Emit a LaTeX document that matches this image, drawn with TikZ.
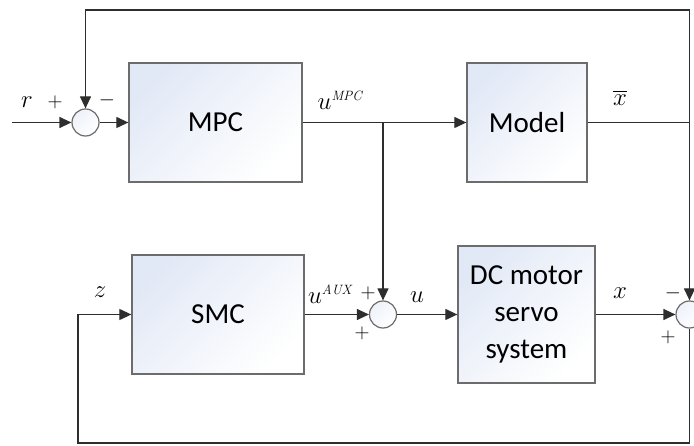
\documentclass[tikz,border=0pt]{standalone}
\usepackage{amsmath}
\usepackage{fontspec}
\newfontfamily\blockfont{Carlito}
\usetikzlibrary{arrows.meta}
\usetikzlibrary{positioning,calc}

\definecolor{boxblue}{HTML}{E2E9F6}
\definecolor{boxline}{HTML}{6C6C6C}
\definecolor{wire}{HTML}{2E2E2E}

\tikzset{
  block/.style={draw=boxline, line width=1.3pt, top color=boxblue, bottom color=white,
    shading angle=45, inner sep=0pt, font=\blockfont\fontsize{29}{37}\selectfont, align=center},
  sumnode/.style={circle, draw=boxline, line width=1.2pt, top color=boxblue!60, bottom color=white,
    shading angle=45, minimum size=27pt, inner sep=0pt},
  sig/.style={wire, line width=1.2pt, -{Triangle[length=12pt,width=11pt]}},
  wireline/.style={wire, line width=1.2pt},
  lbl/.style={inner sep=0pt, font=\fontsize{27}{30}\selectfont},
  sgn/.style={inner sep=0pt, font=\fontsize{22}{24}\selectfont}
}

\begin{document}
\begin{tikzpicture}[x=1pt,y=1pt]
  \useasboundingbox (0,0) rectangle (694,445);
  \clip (0,0) rectangle (694,445);

  % blocks
  \node[block, minimum width=173pt, minimum height=119pt] (mpc) at (215.5,322.5) {MPC};
  \node[block, minimum width=120pt, minimum height=119pt] (model) at (527,322.5) {Model};
  \node[block, minimum width=172pt, minimum height=119pt] (smc) at (218,130.5) {SMC};
  \node[block, minimum width=137pt, minimum height=137pt] (plant) at (526.5,130.5) {DC motor\\servo\\system};

  % summing junctions
  \node[sumnode] (sumr) at (85.5,322.5) {};
  \node[sumnode] (sumu) at (383,130.5) {};
  \node[sumnode] (sumz) at (689.5,130.5) {};

  % helper points
  \coordinate (in) at (12,322.5);
  \coordinate (branch) at (sumu |- mpc.east);
  \coordinate (xbar) at (sumz |- model.east);
  \coordinate (topr) at (689.5,435);
  \coordinate (botr) at (689.5,2);
  \coordinate (botl) at (78,2);

  % signals
  \draw[sig] (in) -- (sumr);
  \draw[sig] (sumr) -- (mpc);
  \draw[sig] (mpc) -- (model);
  \draw[sig] (branch) -- (sumu);
  \draw[wireline] (model) -- (xbar);
  \draw[sig] (xbar) -- (sumz);
  \draw[sig] (xbar) -- (topr) -| (sumr);
  \draw[sig] (smc) -- (sumu);
  \draw[sig] (sumu) -- (plant);
  \draw[sig] (plant) -- (sumz);
  \draw[sig] (sumz) -- (botr) -- (botl) |- (smc);

  % labels
  \node[lbl] (lr) at (27,343) {$r$};
  \node[sgn] (lrp) at (55,343) {$+$};
  \node[sgn] (lrm) at (107,345) {$-$};
  \node[lbl] (lumpc) at (340,345) {$u^{\scriptscriptstyle\mathit{MPC}}$};
  \node[lbl] (lxbar) at (620,347) {$\overline{x}$};
  \node[lbl] (lz) at (100,153) {$z$};
  \node[lbl] (luaux) at (330,151) {$u^{\scriptscriptstyle\mathit{AUX}}$};
  \node[sgn] (lup) at (368,152) {$+$};
  \node[sgn] (lun) at (362,112) {$+$};
  \node[lbl] (lu) at (417,148) {$u$};
  \node[lbl] (lx) at (620,152) {$x$};
  \node[sgn] (lzm) at (673,152) {$-$};
  \node[sgn] (lzp) at (668,108) {$+$};
\end{tikzpicture}
\end{document}
